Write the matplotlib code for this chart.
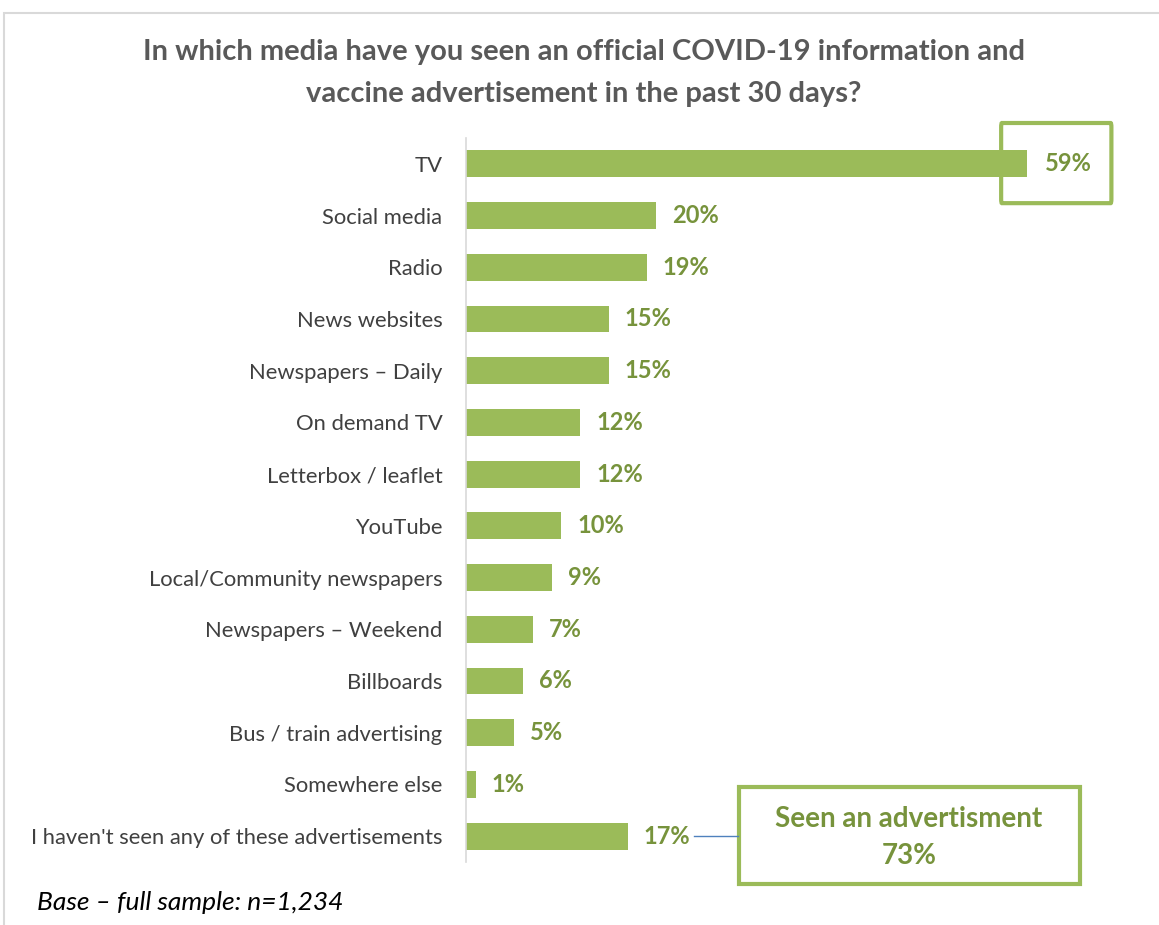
import matplotlib.pyplot as plt
from matplotlib.patches import Rectangle, FancyBboxPatch

plt.rcParams['font.family'] = ['Lato', 'DejaVu Sans']

# survey answers, top to bottom
media = ["TV", "Social media", "Radio", "News websites", "Newspapers \u2013 Daily",
         "On demand TV", "Letterbox / leaflet", "YouTube", "Local/Community newspapers",
         "Newspapers \u2013 Weekend", "Billboards", "Bus / train advertising",
         "Somewhere else", "I haven't seen any of these advertisements"]
pct = [59, 20, 19, 15, 15, 12, 12, 10, 9, 7, 6, 5, 1, 17]
seen_any = 73

bar_col = '#9BBB59'
lab_col = '#77933C'
txt_col = '#404040'

W, H = 1159, 925
fig = plt.figure(figsize=(W/100, H/100), dpi=100)

# outer frame
fig.patches.append(Rectangle((4/W, -0.05), 1.2, 1 - 13/H + 0.05, transform=fig.transFigure,
                             fill=False, edgecolor='#D9D9D9', linewidth=1.5))

ax = fig.add_axes([466/W, 1 - 862/H, (1100-466)/W, (862-138)/H])
y = list(range(len(media)))
ax.barh(y, pct, height=0.52, color=bar_col)
ax.set_ylim(len(media) - 0.5, -0.5)
ax.set_xlim(0, 66.7)
ax.set_yticks(y)
ax.set_yticklabels(media, fontsize=15.8, color=txt_col)
ax.tick_params(axis='y', length=0, pad=17)
ax.set_xticks([])
for s in ['top', 'right', 'bottom']:
    ax.spines[s].set_visible(False)
ax.spines['left'].set_color('#D9D9D9')
ax.spines['left'].set_linewidth(1.2)

for i, v in enumerate(pct):
    x = v + 1.7 if i > 0 else v + 1.9
    ax.text(x, i, f"{v}%", va='center', ha='left', fontsize=17,
            fontweight='bold', color=lab_col)

# highlight box round the TV value
ax.add_patch(FancyBboxPatch((56.3, -0.79), 11.6, 1.55, boxstyle='round,pad=0,rounding_size=0.08',
                            fill=False, edgecolor=bar_col, linewidth=3, clip_on=False))

# summary box for anyone who saw an advert
fig.patches.append(Rectangle((739/W, 1 - 884/H), (1080-739)/W, (884-787)/H,
                             transform=fig.transFigure, fill=False,
                             edgecolor=bar_col, linewidth=3))
fig.text(909/W, 1 - 819/H, "Seen an advertisment", ha='center', va='center',
         fontsize=20, fontweight='bold', color=lab_col)
fig.text(909/W, 1 - 856/H, f"{seen_any}%", ha='center', va='center',
         fontsize=20, fontweight='bold', color=lab_col)
fig.lines.append(plt.Line2D([694/W, 738/W], [1 - 836/H, 1 - 836/H], transform=fig.transFigure,
                            color='#4F81BD', linewidth=1))

fig.text(584/W, 1 - 52/H, "In which media have you seen an official COVID-19 information and",
         ha='center', va='center', fontsize=21, fontweight='bold', color='#595959')
fig.text(584/W, 1 - 94/H, "vaccine advertisement in the past 30 days?",
         ha='center', va='center', fontsize=21, fontweight='bold', color='#595959')

fig.text(37/W, 1 - 903/H, "Base \u2013 full sample: n=1,234", ha='left', va='center',
         fontsize=19, fontstyle='italic', color='black')

fig.savefig('out.png', dpi=100)
